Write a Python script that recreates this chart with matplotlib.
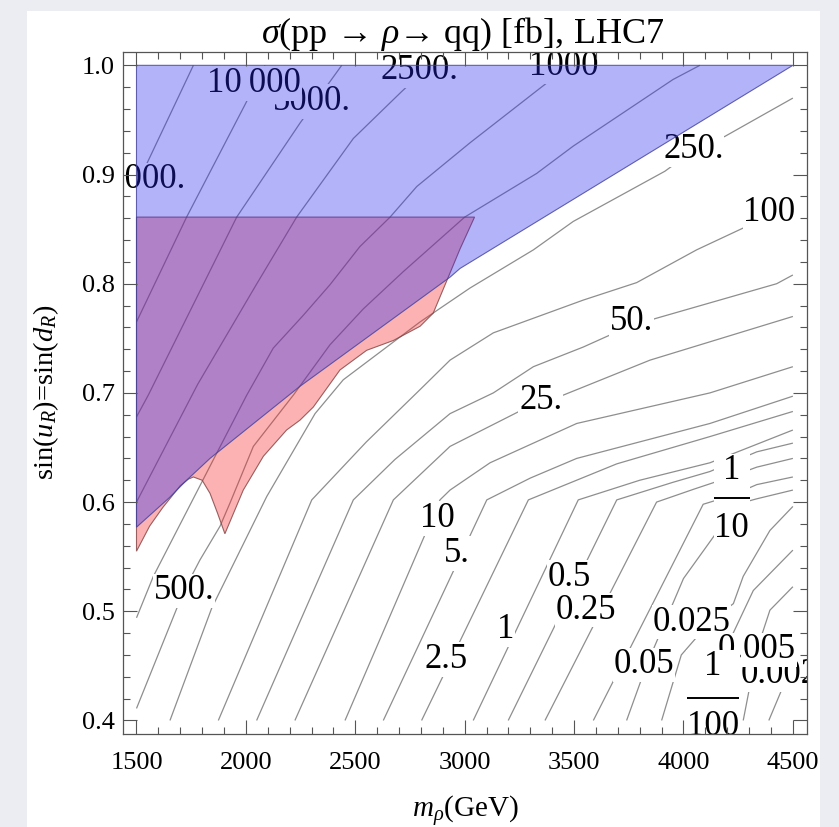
import matplotlib
matplotlib.use('Agg')
import matplotlib.pyplot as plt
from matplotlib.patches import Polygon, Rectangle
from matplotlib.ticker import MultipleLocator, FormatStrFormatter

plt.rcParams['font.family'] = ['Liberation Serif', 'DejaVu Serif']
plt.rcParams['mathtext.fontset'] = 'custom'
plt.rcParams['mathtext.rm'] = 'Liberation Serif'
plt.rcParams['mathtext.it'] = 'Liberation Serif:italic'
plt.rcParams['mathtext.bf'] = 'Liberation Serif:bold'

# contour lines, (m_rho [GeV], sin) points
line_25000 = [(1500, 0.890), (1760, 1.0)]
line_10000 = [(1500, 0.765), (1729, 0.861), (1996, 0.964), (2087, 1.0)]
line_5000 = [(1500, 0.678), (1554, 0.698), (1958, 0.861), (2247, 0.947), (2438, 1.0)]
line_2500 = [(1500, 0.600), (1780, 0.708), (2050, 0.800), (2232, 0.861), (2491, 0.933),
             (2712, 0.976), (2841, 1.0)]
line_1000 = [(1500, 0.494), (1577, 0.532), (1844, 0.636), (2004, 0.698), (2125, 0.741),
             (2262, 0.771), (2384, 0.799), (2521, 0.834), (2659, 0.861), (2781, 0.889),
             (3024, 0.929), (3344, 0.979), (3480, 1.0)]
line_500 = [(1500, 0.411), (1717, 0.519), (1790, 0.547), (1882, 0.578), (1927, 0.599),
            (2034, 0.651), (2217, 0.698), (2384, 0.744), (2537, 0.777), (2719, 0.811),
            (3000, 0.861), (3329, 0.901), (3496, 0.926), (3952, 0.987), (4075, 1.0)]
line_250 = [(1653, 0.4), (1844, 0.503), (2095, 0.605), (2316, 0.681), (2445, 0.712),
            (2796, 0.765), (3024, 0.796), (3314, 0.831), (3496, 0.857), (3915, 0.903),
            (4045, 0.922), (4190, 0.935), (4500, 0.970)]
line_100 = [(1874, 0.4), (2301, 0.602), (2550, 0.655), (2796, 0.703), (2933, 0.730),
            (3131, 0.755), (3542, 0.785), (3786, 0.801), (4060, 0.831), (4273, 0.851),
            (4500, 0.875)]
line_50 = [(2049, 0.4), (2491, 0.602), (2681, 0.639), (2933, 0.681), (3131, 0.700),
           (3314, 0.724), (3542, 0.742), (3664, 0.753), (3870, 0.768), (4426, 0.800),
           (4500, 0.808)]
line_25 = [(2224, 0.4), (2674, 0.602), (2933, 0.651), (3347, 0.693), (3451, 0.698),
           (3847, 0.730), (4500, 0.770)]
line_10 = [(2453, 0.4), (2887, 0.602), (2933, 0.611), (3116, 0.636), (3512, 0.672),
           (4121, 0.700), (4500, 0.724)]
line_5 = [(2628, 0.4), (3101, 0.602), (3300, 0.622), (3512, 0.640), (4121, 0.672),
          (4500, 0.697)]
line_2p5 = [(2803, 0.4), (3291, 0.602), (3695, 0.635), (4121, 0.660), (4500, 0.683)]
line_1 = [(3039, 0.4), (3519, 0.602), (3800, 0.620), (4121, 0.636), (4500, 0.666)]
line_0p5 = [(3199, 0.4), (3695, 0.602), (3950, 0.618), (4121, 0.628), (4335, 0.646),
            (4500, 0.654)]
line_0p25 = [(3367, 0.4), (3877, 0.600), (4050, 0.612), (4200, 0.622), (4335, 0.632),
             (4500, 0.640)]
line_0p1 = [(3588, 0.4), (4090, 0.598), (4220, 0.606), (4335, 0.616), (4500, 0.623)]
line_0p05 = [(3740, 0.4), (3830, 0.450), (4000, 0.530), (4244, 0.598), (4335, 0.603),
             (4500, 0.611)]
line_0p025 = [(3900, 0.4), (3990, 0.460), (4120, 0.490), (4228, 0.507), (4273, 0.532),
              (4395, 0.574), (4500, 0.596)]
line_0p01 = [(4098, 0.4), (4135, 0.420), (4213, 0.474), (4319, 0.519), (4500, 0.556)]
line_0p005 = [(4273, 0.4), (4336, 0.465), (4395, 0.501), (4500, 0.5225)]
line_0p0025 = [(4390, 0.4), (4478, 0.442), (4500, 0.455)]

contour_lines = [line_25000, line_10000, line_5000, line_2500, line_1000, line_500,
                 line_250, line_100, line_50, line_25, line_10, line_5, line_2p5,
                 line_1, line_0p5, line_0p25, line_0p1, line_0p05, line_0p025,
                 line_0p01, line_0p005, line_0p0025]

# contour labels (drawn in this order, later ones cover earlier ones)
label_text = ['25000.', '5000.', '10\u2009000', '2500.', '1000', '500.', '250.', '100',
              '50.', '25.', '10', '5.', '2.5', '1', '0.5', '0.25', '1\n\n10',
              '0.05', '0.025', '0.0025', '0.005', '1\n\n100']
label_x = [1506, 2301, 2037, 2792, 3451, 1717, 4045, 4392, 3763, 3347, 2876, 2965,
           2915, 3189, 3477, 3553, 4220, 3819, 4038, 4478, 4336, 4135]
label_y = [0.895, 0.967, 0.9835, 0.9948, 0.9987, 0.5186, 0.9225, 0.8654, 0.765, 0.693,
           0.585, 0.553, 0.456, 0.483, 0.531, 0.501, 0.602, 0.451, 0.490, 0.442,
           0.4646, 0.4215]
label_spacing = [0.88] * 16 + [0.84] + [0.88] * 4 + [0.88]
# fraction bars of the 1/10 and 1/100 labels: centre and length in points
bar_x = [4220, 4135]
bar_y = [0.6035, 0.4206]
bar_len = [26.5, 38.0]

# excluded regions
blue_x = [1500, 4500, 2979, 2933, 2247, 1836, 1729, 1650, 1500]
blue_y = [1.0, 1.0, 0.814, 0.806, 0.706, 0.640, 0.620, 0.604, 0.577]
red_x = [1500, 3045, 2979, 2925, 2856, 2796, 2674, 2552, 2430, 2308, 2247, 2186, 2080,
         1988, 1904, 1870, 1836, 1800, 1760, 1737, 1700, 1620, 1560, 1500]
red_y = [0.861, 0.861, 0.832, 0.806, 0.773, 0.761, 0.748, 0.739, 0.721, 0.687, 0.675,
         0.666, 0.642, 0.611, 0.571, 0.590, 0.608, 0.620, 0.623, 0.621, 0.615, 0.595,
         0.578, 0.555]

W, H = 839, 827
fig = plt.figure(figsize=(W / 100, H / 100), dpi=100)
fig.patch.set_facecolor('#ececf3')
fig.add_artist(Rectangle((27 / W, 0), 793 / W, 816 / H, transform=fig.transFigure,
                         facecolor='white', edgecolor='none', zorder=0))

ax = fig.add_axes([123 / W, (H - 734) / H, (807 - 123) / W, (734 - 52) / H])
ax.set_facecolor('white')

for pts in contour_lines:
    xs = [p[0] for p in pts]
    ys = [p[1] for p in pts]
    ax.plot(xs, ys, color='#8e8e8e', lw=0.9, zorder=2, solid_capstyle='butt')

for i, (t, x, y, ls) in enumerate(zip(label_text, label_x, label_y, label_spacing)):
    txt = ax.text(x, y, t, fontsize=25, ha='center', va='center', color='black',
                  zorder=3 + i * 0.01, linespacing=ls, multialignment='center',
                  bbox=dict(facecolor='white', edgecolor='none', pad=0.5))
    txt.set_clip_on(True)
    txt.set_clip_box(ax.bbox)
    patch = txt.get_bbox_patch()
    patch.set_clip_on(True)
    patch.set_clip_box(ax.bbox)

for x, y, ln in zip(bar_x, bar_y, bar_len):
    ax.plot([x], [y], marker='_', markersize=ln, markeredgewidth=1.4, color='black',
            zorder=3.5, clip_on=True)

red = Polygon(list(zip(red_x, red_y)), closed=True, facecolor=(0.97, 0.14, 0.14, 0.35),
              edgecolor=(0.5, 0.25, 0.25, 0.8), lw=0.8, zorder=4)
blue = Polygon(list(zip(blue_x, blue_y)), closed=True, facecolor=(0.15, 0.15, 0.95, 0.35),
               edgecolor=(0.25, 0.25, 0.6, 0.8), lw=0.8, zorder=5)
ax.add_patch(red)
ax.add_patch(blue)

ax.set_xlim(1438.3, 4564.5)
ax.set_ylim(0.3876, 1.0122)
ax.xaxis.set_major_locator(MultipleLocator(500))
ax.xaxis.set_minor_locator(MultipleLocator(100))
ax.yaxis.set_major_locator(MultipleLocator(0.1))
ax.yaxis.set_minor_locator(MultipleLocator(0.02))
ax.yaxis.set_major_formatter(FormatStrFormatter('%.1f'))
ax.set_xticks(range(1500, 4501, 500))
ax.tick_params(which='both', direction='in', top=True, right=True, color='#555555',
               width=0.8)
ax.tick_params(which='major', length=10, labelsize=19)
ax.tick_params(which='minor', length=5)
ax.tick_params(axis='x', which='major', pad=13)
ax.tick_params(axis='y', which='major', pad=6)
ax.xaxis.set_zorder(10)
ax.yaxis.set_zorder(10)
for s in ax.spines.values():
    s.set_color('#555555')
    s.set_linewidth(0.9)
    s.set_zorder(10)

fig.text(463 / W, 1 - 34 / H, r'$\sigma$(pp → $\rho$→ qq) [fb], LHC7', fontsize=26,
         ha='center', va='center')
fig.text(465 / W, 1 - 811 / H, r'$m_\rho$(GeV)', fontsize=21, ha='center', va='center')
fig.text(46 / W, 1 - 392 / H, r'sin($u_R$)=sin($d_R$)', fontsize=20.5, rotation=90,
         ha='center', va='center')

plt.savefig('out.png', dpi=100, facecolor=fig.get_facecolor())
